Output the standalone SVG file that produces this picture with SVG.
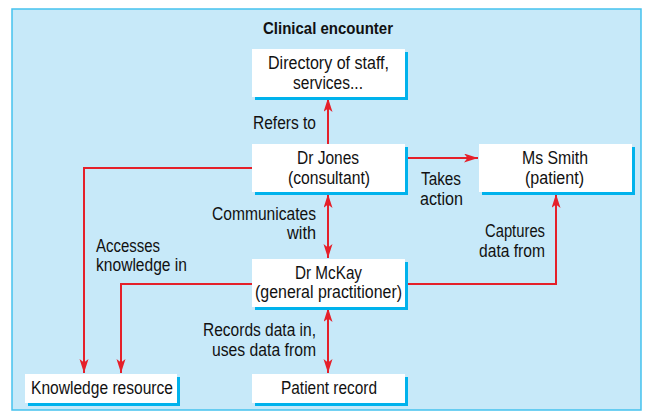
<svg xmlns="http://www.w3.org/2000/svg" width="645" height="414" viewBox="0 0 645 414">
<defs>
<style>
.frame{fill:#c7e9f9;stroke:#45c2ee;stroke-width:1.5}
.shadow{fill:#00b2ec}
.box{fill:#ffffff}
text{font-family:"Liberation Sans",Arial,sans-serif;font-size:17.5px;fill:#111111}
.title{font-weight:bold;font-size:16.5px}
.con{fill:none;stroke:#e5202a;stroke-width:2}
</style>
<marker id="ah" markerUnits="userSpaceOnUse" markerWidth="15" markerHeight="10" refX="14" refY="4.5" orient="auto-start-reverse" viewBox="0 0 15 10">
<path d="M0,0 L14,4.5 L0,9 L3.5,4.5 z" fill="#e5202a"/>
</marker>
</defs>
<rect class="frame" x="12" y="9" width="629" height="401"/>
<text class="title" x="263" y="34" textLength="130" lengthAdjust="spacingAndGlyphs">Clinical encounter</text>

<g id="connectors">
<line class="con" x1="328" y1="144" x2="328" y2="98" marker-end="url(#ah)"/>
<line class="con" x1="405" y1="158" x2="478" y2="158" marker-end="url(#ah)"/>
<line class="con" x1="328" y1="194" x2="328" y2="258" marker-start="url(#ah)" marker-end="url(#ah)"/>
<polyline class="con" points="252,168 84,168 84,373" marker-end="url(#ah)"/>
<polyline class="con" points="252,284 121,284 121,373" marker-end="url(#ah)"/>
<polyline class="con" points="405,284 556,284 556,194" marker-end="url(#ah)"/>
<line class="con" x1="328" y1="308" x2="328" y2="373" marker-start="url(#ah)" marker-end="url(#ah)"/>
</g>

<g id="directory">
<rect class="shadow" x="255" y="52" width="153" height="48"/>
<rect class="box" x="252" y="49" width="153" height="48"/>
<text x="268" y="69" textLength="121" lengthAdjust="spacingAndGlyphs">Directory of staff,</text>
<text x="293" y="89" textLength="70" lengthAdjust="spacingAndGlyphs">services...</text>
</g>

<g id="dr-jones">
<rect class="shadow" x="255" y="147" width="153" height="48"/>
<rect class="box" x="252" y="144" width="153" height="48"/>
<text x="297" y="164" textLength="62" lengthAdjust="spacingAndGlyphs">Dr Jones</text>
<text x="288" y="184" textLength="82" lengthAdjust="spacingAndGlyphs">(consultant)</text>
</g>

<g id="ms-smith">
<rect class="shadow" x="482" y="147" width="153" height="48"/>
<rect class="box" x="479" y="144" width="153" height="48"/>
<text x="522" y="164" textLength="66" lengthAdjust="spacingAndGlyphs">Ms Smith</text>
<text x="525" y="184" textLength="59" lengthAdjust="spacingAndGlyphs">(patient)</text>
</g>

<g id="dr-mckay">
<rect class="shadow" x="255" y="262" width="153" height="48"/>
<rect class="box" x="252" y="259" width="153" height="48"/>
<text x="295" y="279" textLength="67" lengthAdjust="spacingAndGlyphs">Dr McKay</text>
<text x="255" y="298" textLength="147" lengthAdjust="spacingAndGlyphs">(general practitioner)</text>
</g>

<g id="knowledge-resource">
<rect class="shadow" x="28" y="377" width="152" height="29"/>
<rect class="box" x="25" y="374" width="152" height="29"/>
<text x="31" y="394" textLength="142" lengthAdjust="spacingAndGlyphs">Knowledge resource</text>
</g>

<g id="patient-record">
<rect class="shadow" x="255" y="377" width="153" height="29"/>
<rect class="box" x="252" y="374" width="153" height="29"/>
<text x="281" y="394" textLength="96" lengthAdjust="spacingAndGlyphs">Patient record</text>
</g>

<g id="labels">
<text x="253" y="129" textLength="63" lengthAdjust="spacingAndGlyphs">Refers to</text>
<text x="421" y="185" textLength="40" lengthAdjust="spacingAndGlyphs">Takes</text>
<text x="420" y="205" textLength="43" lengthAdjust="spacingAndGlyphs">action</text>
<text x="212" y="220" textLength="104" lengthAdjust="spacingAndGlyphs">Communicates</text>
<text x="287" y="239" textLength="29" lengthAdjust="spacingAndGlyphs">with</text>
<text x="96" y="252" textLength="64" lengthAdjust="spacingAndGlyphs">Accesses</text>
<text x="96" y="271" textLength="91" lengthAdjust="spacingAndGlyphs">knowledge in</text>
<text x="485" y="237" textLength="60" lengthAdjust="spacingAndGlyphs">Captures</text>
<text x="479" y="257" textLength="66" lengthAdjust="spacingAndGlyphs">data from</text>
<text x="203" y="336" textLength="113" lengthAdjust="spacingAndGlyphs">Records data in,</text>
<text x="212" y="356" textLength="104" lengthAdjust="spacingAndGlyphs">uses data from</text>
</g>
</svg>
